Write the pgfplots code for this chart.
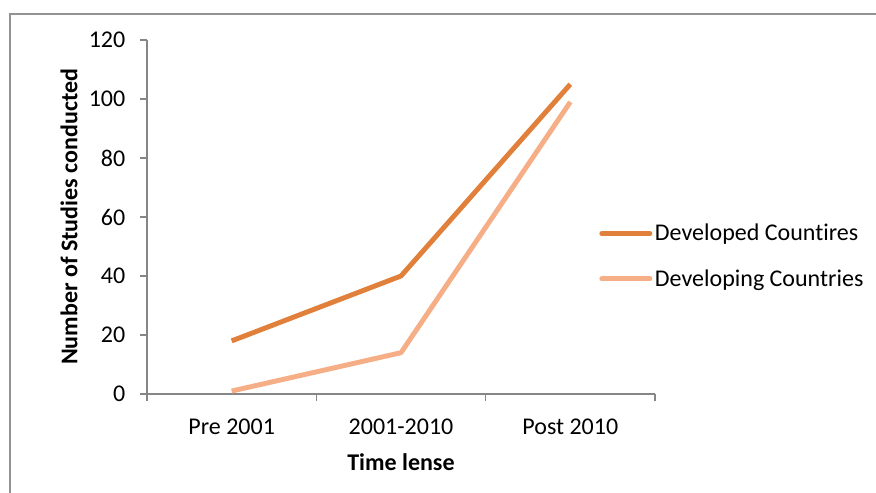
\documentclass[border=0pt]{standalone}
\usepackage{pgfplots}
\pgfplotsset{compat=1.18}
\usepackage{fontspec}
\setmainfont{Carlito}[Ligatures=NoCommon]

\definecolor{devd}{HTML}{E0803A}
\definecolor{devg}{HTML}{F6AE86}
\definecolor{axgray}{HTML}{868686}

\begin{document}
\begin{tikzpicture}[font=\fontsize{18}{21}\selectfont]
% page = 876x493 px at 0.75pt per px
\path[use as bounding box] (0,0) rectangle (657pt,369.75pt);
\draw[color=axgray!90, line width=1.1pt] (7.5pt,-2pt) -- (7.5pt,359.25pt) -- (660pt,359.25pt);
\begin{axis}[
    at={(110.25pt,74.25pt)}, anchor=south west,
    scale only axis,
    width=381pt, height=265.5pt,
    xmin=-0.5, xmax=2.5,
    ymin=0, ymax=120,
    ytick={0,20,...,120},
    xtick={0,1,2},
    xticklabels={Pre 2001, 2001-2010, Post 2010},
    minor xtick={-0.5,0.5,1.5,2.5},
    major x tick style={draw=none},
    tick align=outside,
    major tick length=5pt,
    minor tick length=5pt,
    axis lines*=left,
    axis line style={axgray, line width=0.9pt},
    every tick/.style={axgray, line width=0.9pt},
    y tick style={axgray, line width=0.9pt},
    /pgf/number format/assume math mode=true,
    yticklabel style={xshift=-7.75pt},
    xticklabel style={yshift=-10.5pt},
    xlabel={\textbf{Time lense}},
    xlabel style={yshift=-6.75pt},
    ylabel={\textbf{Number of Studies conducted}},
    ylabel shift=1.5pt,
    clip=false,
    legend style={at={(0.89,0.389)}, anchor=west, draw=none, fill=none,
        inner sep=0pt, row sep=16pt, font=\fontsize{18}{21}\selectfont},
    legend cell align=left,
    legend image code/.code={\draw[#1, line cap=round] (0pt,0pt) -- (36pt,0pt);},
]
\addplot[devd, line width=3.7pt, line join=round] coordinates {(0,18) (1,40) (2,105)};
\addplot[devg, line width=3.7pt, line join=round] coordinates {(0,1) (1,14) (2,99)};
\legend{Developed Countires, Developing Countries}
\end{axis}
\end{tikzpicture}
\end{document}
